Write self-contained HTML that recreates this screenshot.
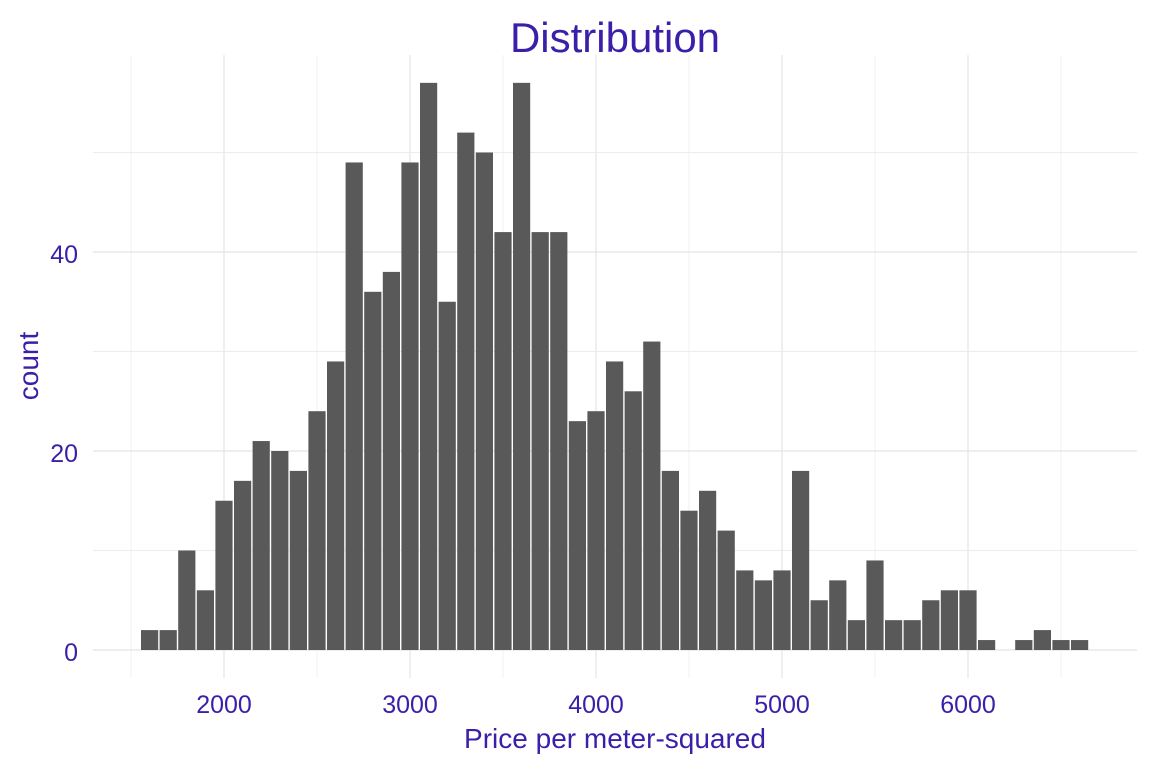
<!DOCTYPE html>
<html><head><meta charset="utf-8"><style>
body{margin:0;background:#fff;}
svg{font-family:"Liberation Sans",Arial,sans-serif;}
</style></head><body>
<svg id="c" width="1152" height="768">
<text x="615" y="52" text-anchor="middle" font-size="42" fill="#3b1fa9">Distribution</text>
<g id="grid"></g><g id="bars"></g><g id="ticks"></g>
<text x="615" y="748" text-anchor="middle" font-size="28" fill="#3b1fa9">Price per meter-squared</text>
<text transform="translate(38,366) rotate(-90)" text-anchor="middle" font-size="28" fill="#3b1fa9">count</text>
</svg>
<script>
const binCenters=[1600,1700,1800,1900,2000,2100,2200,2300,2400,2500,2600,2700,2800,2900,3000,3100,3200,3300,3400,3500,3600,3700,3800,3900,4000,4100,4200,4300,4400,4500,4600,4700,4800,4900,5000,5100,5200,5300,5400,5500,5600,5700,5800,5900,6000,6100,6200,6300,6400,6500,6600];
const counts=[2,2,10,6,15,17,21,20,18,24,29,49,36,38,49,57,35,52,50,42,57,42,42,23,24,29,26,31,18,14,16,12,8,7,8,18,5,7,3,9,3,3,5,6,6,1,0,1,2,1,1];
const xTicks=[2000,3000,4000,5000,6000];
const yTicks=[0,20,40];
const binWidth=100;
const X=v=>224+(v-2000)*0.186;
const Y=v=>650-v*9.95;
const NS="http://www.w3.org/2000/svg";
const g=document.getElementById('grid'),b=document.getElementById('bars'),t=document.getElementById('ticks');
function mk(tag,at,p){const e=document.createElementNS(NS,tag);for(const k in at)e.setAttribute(k,at[k]);p.appendChild(e);return e;}
for(let v=1500;v<=6500;v+=500){const l=mk('line',{x1:X(v),x2:X(v),y1:55,y2:678,stroke:v%1000?'#f0f0f0':'#e6e6e6','stroke-width':v%1000?1:1.3},g);

}
for(let v=0;v<=50;v+=10){const l=mk('line',{x1:93,x2:1137,y1:Y(v),y2:Y(v),stroke:v%20?'#ececec':'#e3e3e3','stroke-width':v%20?1:1.3},g);

}
binCenters.forEach((c,i)=>{if(!counts[i])return;const x0=X(c-binWidth/2)+0.7,x1=X(c+binWidth/2)-0.7;
const r=mk('rect',{x:x0,y:Y(counts[i]),width:x1-x0,height:Y(0)-Y(counts[i]),fill:'#595959'},b);

});
xTicks.forEach(v=>{const e=mk('text',{x:X(v),y:713,'text-anchor':'middle','font-size':25,fill:'#3b1fa9'},t);e.textContent=v;

});
yTicks.forEach(v=>{const e=mk('text',{x:78,y:Y(v)+11,'text-anchor':'end','font-size':25,fill:'#3b1fa9'},t);e.textContent=v;

});
</script>
</body></html>
